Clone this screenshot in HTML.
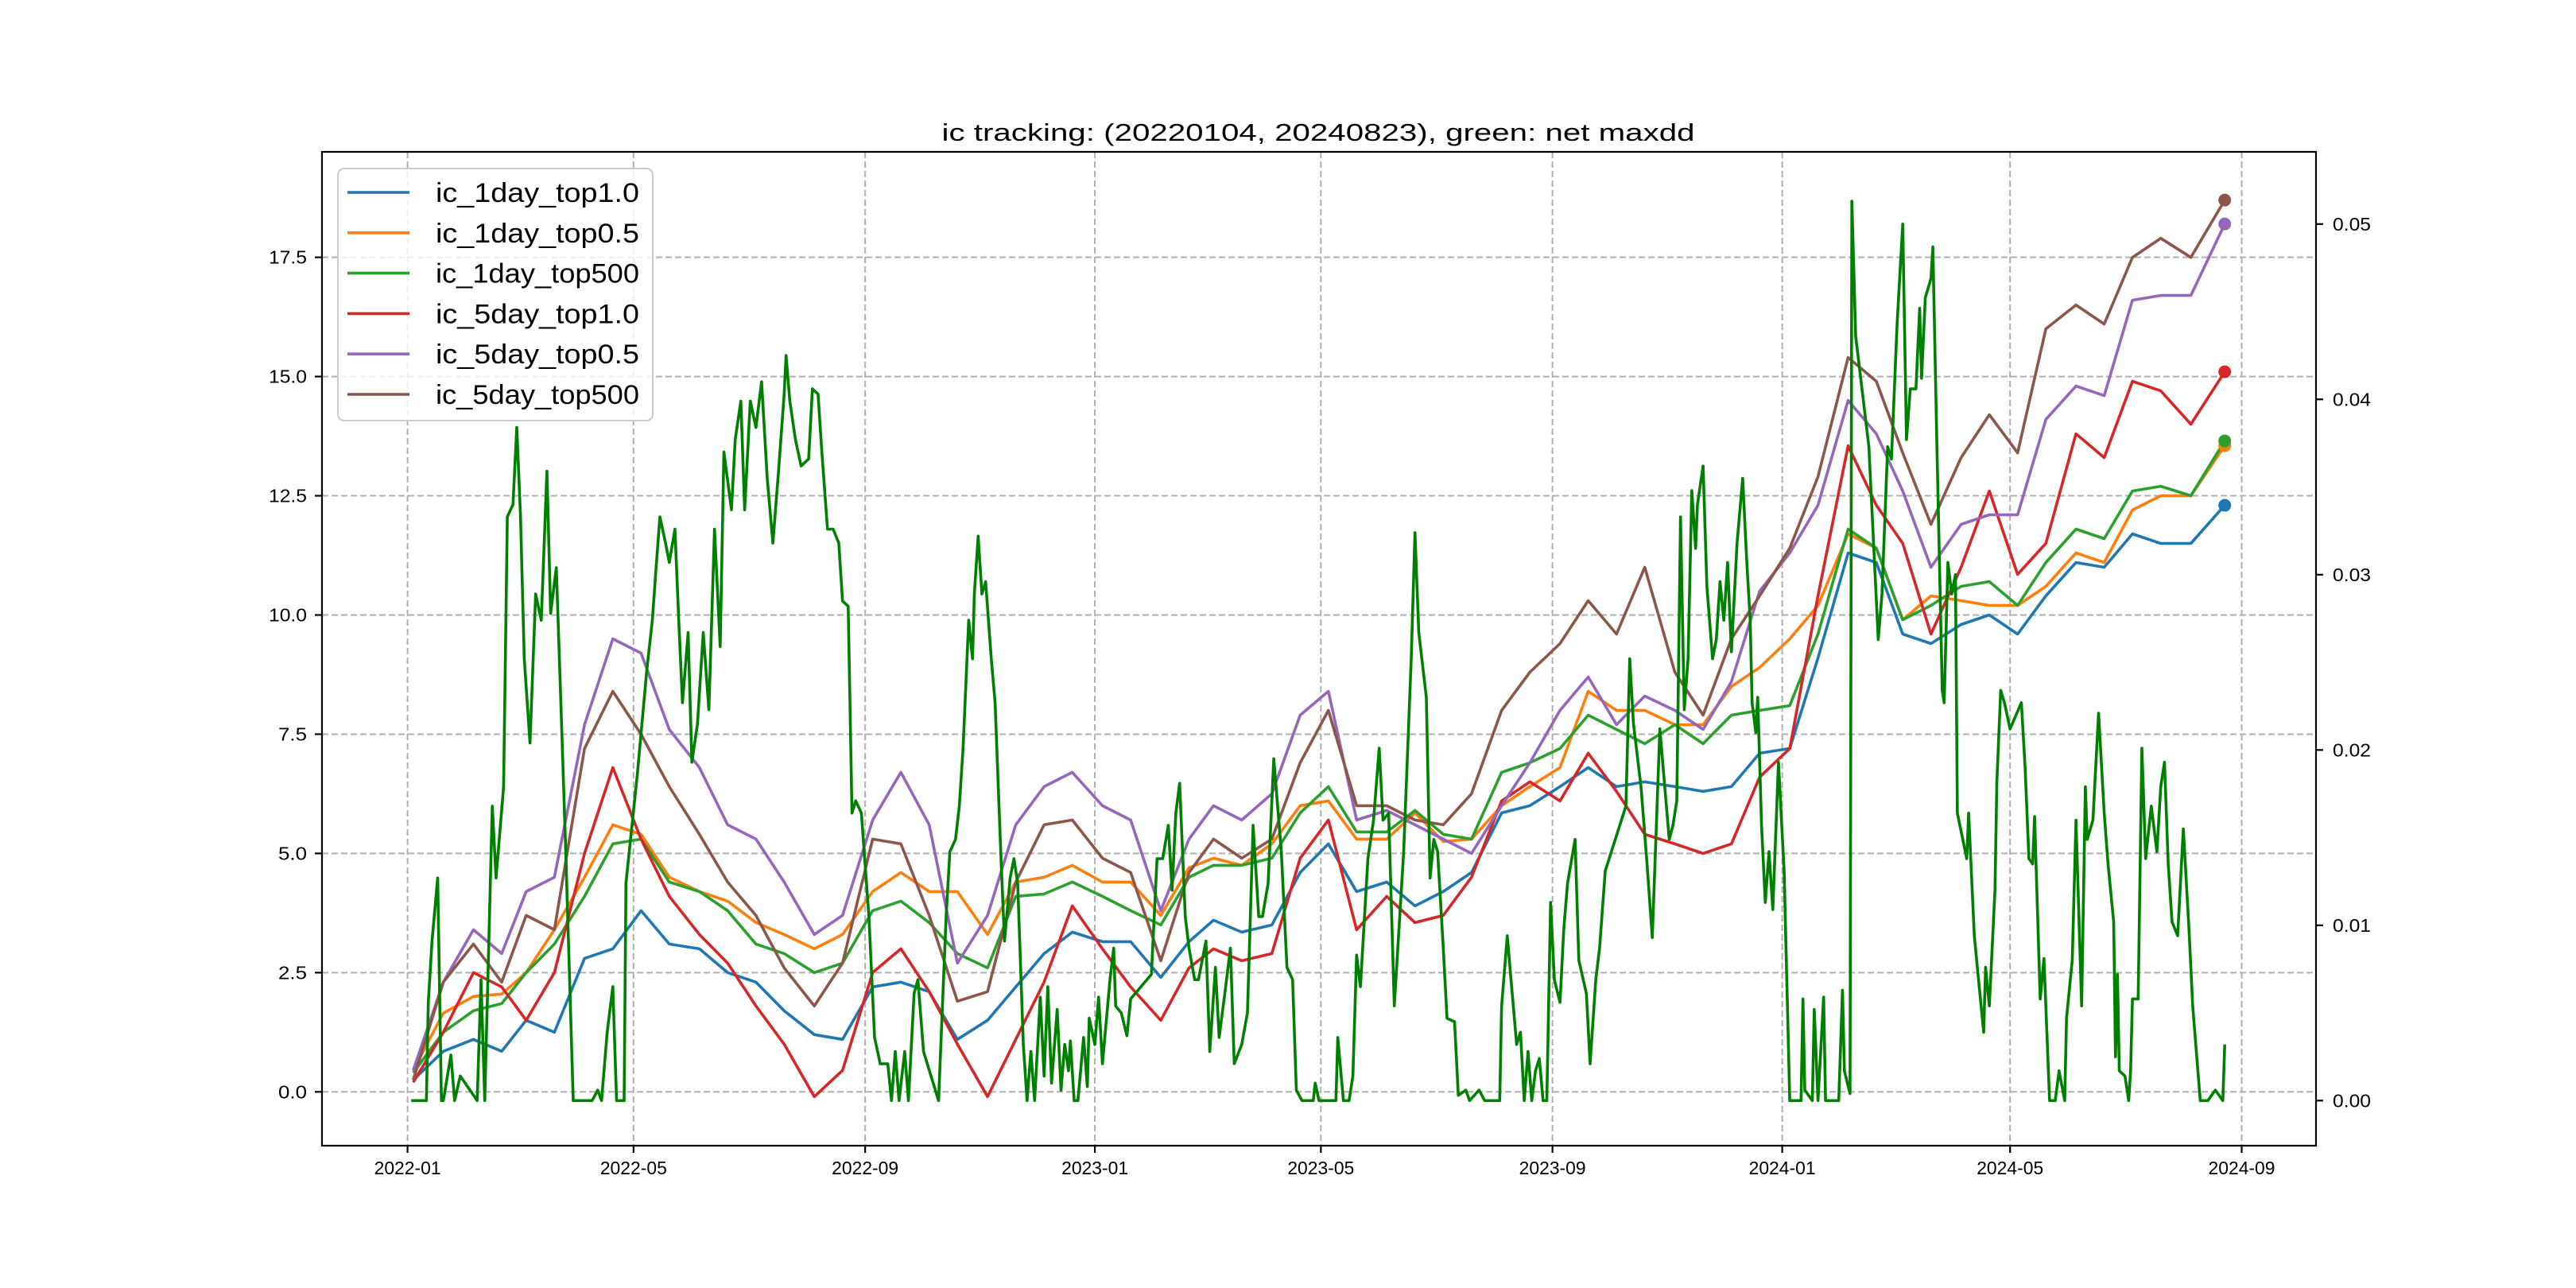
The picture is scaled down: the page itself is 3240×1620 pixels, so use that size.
<!DOCTYPE html>
<html>
<head>
<meta charset="utf-8">
<style>
html,body{margin:0;padding:0;background:#fff;}
svg{display:block;}
text{font-family:"Liberation Sans","Noto Sans CJK SC",sans-serif;fill:#000;}
</style>
</head>
<body>
<svg id="chart" width="3240" height="1620" viewBox="0 0 3240 1620" xmlns="http://www.w3.org/2000/svg">
  <rect x="0" y="0" width="3240" height="1620" fill="#ffffff"/>
  <g id="grid"></g>
  <g id="series"></g>
  <g id="legend"></g>
  <g id="series2"></g>
  <g id="axes"></g>
  <text x="1658" y="177" font-size="31" text-anchor="middle" textLength="947" lengthAdjust="spacingAndGlyphs">ic tracking: (20220104, 20240823), green: net maxdd</text>
</svg>
<script>
const dates = ["2022-01-04","2022-01-20","2022-02-05","2022-02-20","2022-03-05","2022-03-20","2022-04-05","2022-04-20","2022-05-05","2022-05-20","2022-06-05","2022-06-20","2022-07-05","2022-07-20","2022-08-05","2022-08-20","2022-09-05","2022-09-20","2022-10-05","2022-10-20","2022-11-05","2022-11-20","2022-12-05","2022-12-20",
"2023-01-05","2023-01-20","2023-02-05","2023-02-20","2023-03-05","2023-03-20","2023-04-05","2023-04-20","2023-05-05","2023-05-20","2023-06-05","2023-06-20","2023-07-05","2023-07-20","2023-08-05","2023-08-20","2023-09-05","2023-09-20","2023-10-05","2023-10-20","2023-11-05","2023-11-20","2023-12-05","2023-12-20",
"2024-01-05","2024-01-20","2024-02-05","2024-02-20","2024-03-05","2024-03-20","2024-04-05","2024-04-20","2024-05-05","2024-05-20","2024-06-05","2024-06-20","2024-07-05","2024-07-20","2024-08-05","2024-08-23"];
const ic1dTop10 = [0.25,0.85,1.1,0.85,1.5,1.25,2.8,3.0,3.8,3.1,3.0,2.5,2.3,1.7,1.2,1.1,2.2,2.3,2.1,1.1,1.5,2.2,2.9,3.35,
3.15,3.15,2.4,3.15,3.6,3.35,3.5,4.6,5.2,4.2,4.4,3.9,4.2,4.6,5.85,6.0,6.4,6.8,6.4,6.5,6.4,6.3,6.4,7.1,
7.2,9.1,11.3,11.1,9.6,9.4,9.8,10.0,9.6,10.4,11.1,11.0,11.7,11.5,11.5,12.3];
const ic1dTop05 = [0.45,1.65,2.0,2.05,2.5,3.4,4.5,5.6,5.4,4.5,4.2,4.0,3.55,3.3,3.0,3.3,4.2,4.6,4.2,4.2,3.3,4.4,4.5,4.75,
4.4,4.4,3.7,4.7,4.9,4.75,5.2,6.0,6.1,5.3,5.3,5.85,5.25,5.3,6.0,6.4,6.8,8.4,8.0,8.0,7.7,7.7,8.5,8.9,
9.5,10.2,11.7,11.4,9.9,10.4,10.3,10.2,10.2,10.6,11.3,11.1,12.2,12.5,12.5,13.55];
const ic1dTop500 = [0.4,1.25,1.7,1.85,2.5,3.1,4.1,5.2,5.3,4.4,4.2,3.8,3.1,2.9,2.5,2.7,3.8,4.0,3.55,2.9,2.6,4.1,4.15,4.4,
4.1,3.8,3.5,4.5,4.75,4.75,4.9,5.85,6.4,5.45,5.45,5.9,5.4,5.3,6.7,6.9,7.2,7.9,7.6,7.3,7.7,7.3,7.9,8.0,
8.1,9.6,11.8,11.4,9.9,10.2,10.6,10.7,10.2,11.1,11.8,11.6,12.6,12.7,12.5,13.65];
const ic5dTop10 = [0.2,1.25,2.5,2.2,1.5,2.5,5.0,6.8,5.3,4.1,3.3,2.7,1.8,1.0,-0.1,0.45,2.5,3.0,2.1,1.0,-0.1,1.1,2.3,3.9,
3.0,2.2,1.5,2.6,3.0,2.75,2.9,4.9,5.7,3.4,4.1,3.55,3.7,4.5,6.1,6.5,6.1,7.1,6.3,5.4,5.2,5.0,5.2,6.6,
7.2,10.4,13.55,12.3,11.5,9.6,11.0,12.6,10.85,11.5,13.8,13.3,14.9,14.7,14.0,15.1];
const ic5dTop05 = [0.45,2.3,3.4,2.9,4.2,4.5,7.7,9.5,9.2,7.6,6.8,5.6,5.3,4.4,3.3,3.7,5.7,6.7,5.6,2.7,3.7,5.6,6.4,6.7,
6.0,5.7,3.8,5.3,6.0,5.7,6.25,7.9,8.4,5.7,5.9,5.6,5.3,5.0,6.0,6.9,8.0,8.7,7.7,8.3,8.0,7.6,8.6,10.5,
11.3,12.3,14.5,13.8,12.6,11.0,11.9,12.1,12.1,14.1,14.8,14.6,16.6,16.7,16.7,18.2];
const ic5dTop500 = [0.25,2.3,3.1,2.3,3.7,3.4,7.2,8.4,7.5,6.4,5.4,4.4,3.7,2.6,1.8,2.7,5.3,5.2,3.7,1.9,2.1,4.4,5.6,5.7,
4.9,4.6,2.75,4.6,5.3,4.9,5.3,6.9,8.0,6.0,6.0,5.7,5.6,6.25,8.0,8.8,9.4,10.3,9.6,11.0,8.8,7.9,9.5,10.4,
11.4,12.9,15.4,14.9,13.4,11.9,13.3,14.2,13.4,16.0,16.5,16.1,17.5,17.9,17.5,18.7];
const seriesNames = ["ic_1day_top1.0","ic_1day_top0.5","ic_1day_top500","ic_5day_top1.0","ic_5day_top0.5","ic_5day_top500"];
// net maxdd: day index since 2022-01-01 and value (right axis)
const maxddDay = [2,10,11,13,16,18,19,23,25,28,37,39,41,45,47,51,53,56,58,60,62,65,68,71,74,76,79,81,84,88,98,101,103,106,109,111,115,116,122,127,130,132,134,137,139,142,144,146,149,151,154,157,160,163,166,168,172,174,177,179,182,185,188,191,194,197,200,201,203,206,209,213,215,218,220,223,226,229,231,234,236,238,241,245,248,251,255,257,259,261,264,266,269,271,274,282,286,288,291,293,295,298,300,301,303,305,307,310,312,315,317,320,322,324,327,
329,331,333,336,338,340,342,345,347,349,351,352,354,356,359,361,362,365,367,369,373,375,376,379,382,384,395,398,401,404,406,408,410,413,415,418,420,424,426,429,431,434,437,439,443,446,449,452,454,457,460,464,467,470,472,475,481,482,484,493,494,497,500,502,504,506,510,513,516,518,521,524,529,533,535,537,541,543,545,547,550,552,556,558,562,564,569,572,580,581,584,586,589,591,593,595,597,599,601,603,605,607,609,612,614,616,620,622,626,628,631,633,636,647,649,651,655,658,661,665,
670,672,674,676,678,680,682,684,685,688,690,693,695,697,699,701,703,706,709,711,713,714,716,717,719,721,723,725,728,731,734,740,741,742,746,747,749,752,753,760,762,763,766,767,769,776,781,783,786,788,791,794,796,798,801,803,804,806,809,810,812,815,816,818,820,822,823,828,829,832,834,837,838,840,843,844,846,848,851,857,859,861,863,864,867,869,872,875,877,880,881,884,886,889,891,892,895,898,901,903,906,907,908,909,912,914,915,916,919,921,923,926,929,931,933,935,937,940,943,946,948,952,956,960,964,965];
const maxddVal = [0,0,.0056,.0091,.0127,0,0,.0026,0,.0014,0,.0069,0,.0168,.0127,.0179,.0333,.0340,.0384,.0333,.0252,.0204,.0289,.0274,.0359,.0278,.0304,.0241,.0142,0,0,.0006,0,.0039,.0065,0,0,.0124,.0186,.0245,.0274,.0304,.0333,.0318,.0307,.0326,.0274,.0227,.0267,.0193,.0215,.0267,.0223,.0326,.0259,.0370,.0337,.0377,.0399,.0337,.0399,.0384,.0410,.0355,.0318,.0359,.0403,.0425,.0399,.0377,.0362,.0366,.0406,.0403,.0370,.0326,.0326,.0318,.0285,.0282,.0164,.0171,.0164,.0105,.0036,.0021,.0021,0,.0028,0,.0028,0,.0061,.0069,.0028,0,.0105,.0142,.0149,.0168,.0201,.0274,.0252,.0289,.0322,.0289,.0296,.0252,.0227,.0142,.0091,.0127,.0138,.0124,.0032,
0,.0028,0,.0059,.0014,.0065,.0010,.0052,.0006,.0032,.0017,.0034,0,0,.0036,.0008,.0047,.0032,.0059,.0021,.0069,.0087,.0054,.0050,.0037,.0058,.0072,.0138,.0138,.0157,.0120,.0164,.0181,.0105,.0087,.0069,.0069,.0091,.0028,.0076,.0036,.0061,.0087,.0021,.0032,.0050,.0157,.0105,.0105,.0124,.0195,.0142,.0076,.0069,.0006,0,0,.0010,0,0,.0036,0,0,.0014,.0083,.0065,.0138,.0160,.0201,.0160,.0164,.0054,.0142,.0252,.0324,.0267,.0230,.0127,.0149,.0142,.0087,.0047,.0045,.0003,.0006,0,.0006,0,0,.0054,.0094,.0069,.0032,.0039,0,.0028,0,.0017,.0024,0,0,.0113,.0069,.0056,.0098,.0124,.0149,.0080,.0061,.0021,.0069,.0087,.0131,.0168,.0252,.0215,.0179,.0138,.0093,.0212,
.0149,.0157,.0171,.0333,.0223,.0252,.0348,.0315,.0340,.0362,.0293,.0252,.0263,.0296,.0274,.0307,.0256,.0318,.0355,.0311,.0274,.0227,.0210,.0230,.0157,.0113,.0142,.0109,.0193,.0131,0,0,.0058,.0006,0,.0052,0,.0059,0,0,.0063,.0017,.0004,.0513,.0436,.0373,.0263,.0289,.0373,.0366,.0443,.0500,.0377,.0406,.0406,.0452,.0412,.0458,.0469,.0487,.0381,.0234,.0227,.0307,.0289,.0300,.0164,.0138,.0164,.0094,.0072,.0039,.0076,.0054,.0120,.0182,.0234,.0227,.0212,.0227,.0190,.0138,.0135,.0162,.0058,.0081,0,0,.0017,0,.0047,.0080,.0160,.0054,.0179,.0149,.0160,.0221,.0164,.0135,.0102,.0025,.0072,.0017,.0014,0,.0017,.0058,.0058,.0201,.0138,.0168,.0142,.0179,.0193,.0135,.0102,.0094,.0155,.0098,.0054,0,0,.0006,0,.0032];
const xTickLabels = ["2022-01","2022-05","2022-09","2023-01","2023-05","2023-09","2024-01","2024-05","2024-09"];
const yTickValues = [0,2.5,5,7.5,10,12.5,15,17.5];
const yTickLabels = ["0.0","2.5","5.0","7.5","10.0","12.5","15.0","17.5"];
const y2TickValues = [0,0.01,0.02,0.03,0.04,0.05];
const y2TickLabels = ["0.00","0.01","0.02","0.03","0.04","0.05"];

const NS = "http://www.w3.org/2000/svg";
const AX = {l:405, r:2913, t:191, b:1441};
const colors = ["#1f77b4","#ff7f0e","#2ca02c","#d62728","#9467bd","#8c564b"];
const BASE = Date.UTC(2022,0,1);
function dayOf(s){const p=s.split("-");return (Date.UTC(+p[0],+p[1]-1,+p[2])-BASE)/86400000;}
function xScale(d){return 512.6 + d*2.3685;}
function yScale(v){return 1373.3 - v*59.98;}
function y2Scale(v){return 1384.3 - v*22050;}
function mk(tag, attrs, parent){const e=document.createElementNS(NS,tag);for(const k in attrs)e.setAttribute(k,attrs[k]);parent.appendChild(e);return e;}

const grid=document.getElementById("grid"), ser=document.getElementById("series"), ser2=document.getElementById("series2"), axes=document.getElementById("axes"), leg=document.getElementById("legend");

// grid
xTickLabels.forEach(function(lb){
  const x=xScale(dayOf(lb+"-01"));
  const g=mk("line",{x1:x,x2:x,y1:AX.t,y2:AX.b,stroke:"#b0b0b0","stroke-width":2,"stroke-dasharray":"8,4"},grid);
  
  
});
yTickValues.forEach(function(v){
  const y=yScale(v);
  const g=mk("line",{x1:AX.l,x2:AX.r,y1:y,y2:y,stroke:"#b0b0b0","stroke-width":2,"stroke-dasharray":"8,4"},grid);
  
  
});

// ic series
const allSeries=[ic1dTop10,ic1dTop05,ic1dTop500,ic5dTop10,ic5dTop05,ic5dTop500];
const xs=dates.map(function(d){return xScale(dayOf(d));});
allSeries.forEach(function(vals,i){
  const pts=vals.map(function(v,j){return xs[j].toFixed(1)+","+yScale(v).toFixed(1);}).join(" ");
  const pl=mk("polyline",{points:pts,fill:"none",stroke:colors[i],"stroke-width":3.6,"stroke-linejoin":"round"},ser);
  
  
});
allSeries.forEach(function(vals,i){
  const n=vals.length-1;
  const c=mk("circle",{cx:xs[n],cy:yScale(vals[n]),r:8,fill:colors[i]},ser);
  
  
});

// legend
const lb=mk("rect",{x:425,y:212,width:396,height:317,rx:8,fill:"#ffffff","fill-opacity":0.8,stroke:"#cccccc","stroke-width":2},leg);


seriesNames.forEach(function(nm,i){
  const y=242+i*50.8;
  const ln=mk("line",{x1:437,x2:515,y1:y,y2:y,stroke:colors[i],"stroke-width":3.6},leg);
  
  
  const t=mk("text",{x:548,y:y+12,"font-size":34,textLength:256,lengthAdjust:"spacingAndGlyphs"},leg);
  t.textContent=nm;
  
  
});

// maxdd series (right axis)
const mpts=maxddDay.map(function(d,j){return xScale(d).toFixed(1)+","+y2Scale(maxddVal[j]).toFixed(1);}).join(" ");
const mline=mk("polyline",{points:mpts,fill:"none",stroke:"#008000","stroke-width":3.6,"stroke-linejoin":"round"},ser2);



// axes frame
const fr=mk("rect",{x:AX.l,y:AX.t,width:AX.r-AX.l,height:AX.b-AX.t,fill:"none",stroke:"#000","stroke-width":2.2},axes);



xTickLabels.forEach(function(lbl){
  const x=xScale(dayOf(lbl+"-01"));
  const tk=mk("line",{x1:x,x2:x,y1:AX.b,y2:AX.b+9,stroke:"#000","stroke-width":2.2},axes);
  
  
  const t=mk("text",{x:x,y:1477,"font-size":23,"text-anchor":"middle",textLength:84,lengthAdjust:"spacingAndGlyphs"},axes);
  t.textContent=lbl;
  
  
});
yTickValues.forEach(function(v,i){
  const y=yScale(v);
  const tk=mk("line",{x1:AX.l-9,x2:AX.l,y1:y,y2:y,stroke:"#000","stroke-width":2.2},axes);
  
  
  const lbl=yTickLabels[i];
  const t=mk("text",{x:386,y:y+8,"font-size":23,"text-anchor":"end",textLength:lbl.length*12,lengthAdjust:"spacingAndGlyphs"},axes);
  t.textContent=lbl;
  
  
});
y2TickValues.forEach(function(v,i){
  const y=y2Scale(v);
  const tk=mk("line",{x1:AX.r,x2:AX.r+9,y1:y,y2:y,stroke:"#000","stroke-width":2.2},axes);
  
  
  const t=mk("text",{x:2934,y:y+8,"font-size":23,textLength:48,lengthAdjust:"spacingAndGlyphs"},axes);
  t.textContent=y2TickLabels[i];
  
  
});
</script>
</body>
</html>
